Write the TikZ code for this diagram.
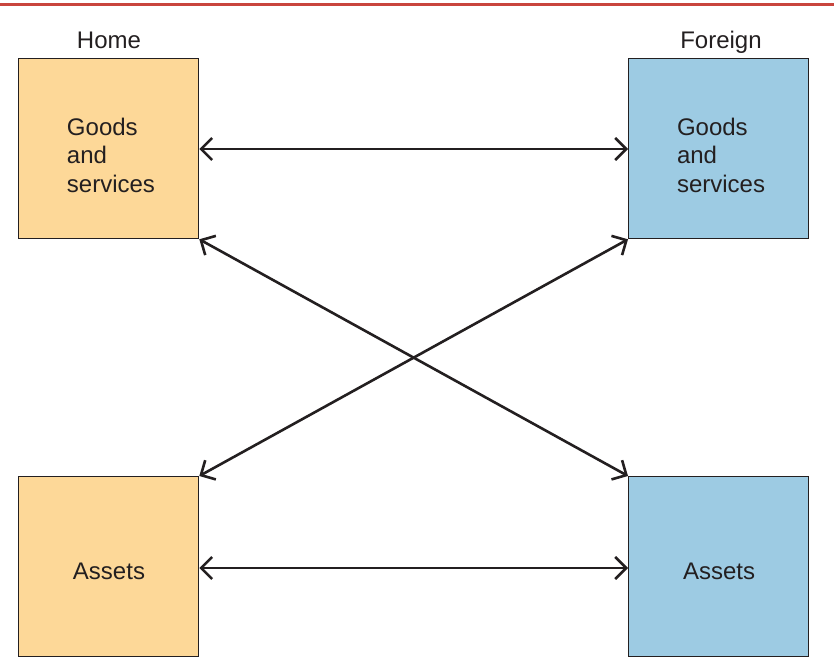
\documentclass[tikz,border=0pt]{standalone}
\usepackage{fontspec}
\setmainfont{Liberation Sans}
\usetikzlibrary{arrows.meta}
\definecolor{homefill}{HTML}{FDD898}
\definecolor{forfill}{HTML}{9DCBE3}
\definecolor{ink}{HTML}{231F20}
\definecolor{topred}{HTML}{C9453D}
\begin{document}
\begin{tikzpicture}[x=1pt,y=-1pt,
  box/.style={draw=ink, line width=1.3pt, minimum width=180pt, minimum height=180pt, inner sep=0pt, anchor=north west},
  lbl/.style={font=\fontsize{24}{28.5}\selectfont, text=ink, inner sep=0pt},
  link/.style={draw=ink, line width=2.6pt, {Straight Barb[length=11pt,width=22pt,line width=2.6pt]}-{Straight Barb[length=11pt,width=22pt,line width=2.6pt]}}
]
\useasboundingbox (0,0) rectangle (834,669);
\fill[topred] (0,3) rectangle (834,6.5);
\node[box, fill=homefill] (hg) at (18,58) {};
\node[box, fill=forfill] (fg) at (628,58) {};
\node[box, fill=homefill] (ha) at (18,476) {};
\node[box, fill=forfill] (fa) at (628,476) {};
\node[lbl, anchor=base] (home) at (109,48.5) {Home};
\node[lbl, anchor=base] (foreign) at (721,48.5) {Foreign};
\node[lbl, align=left] (hgt) at (111,155) {Goods\\and\\services};
\node[lbl, align=left] (fgt) at (721,155) {Goods\\and\\services};
\node[lbl] (hat) at (109,571) {Assets};
\node[lbl] (fat) at (719,571) {Assets};
\draw[link] (hg.east |- 0,149) -- (fg.west |- 0,149);
\draw[link] (ha.east |- 0,568) -- (fa.west |- 0,568);
\draw[link] (hg.south east) -- (fa.north west);
\draw[link] (fg.south west) -- (ha.north east);
\end{tikzpicture}
\end{document}
